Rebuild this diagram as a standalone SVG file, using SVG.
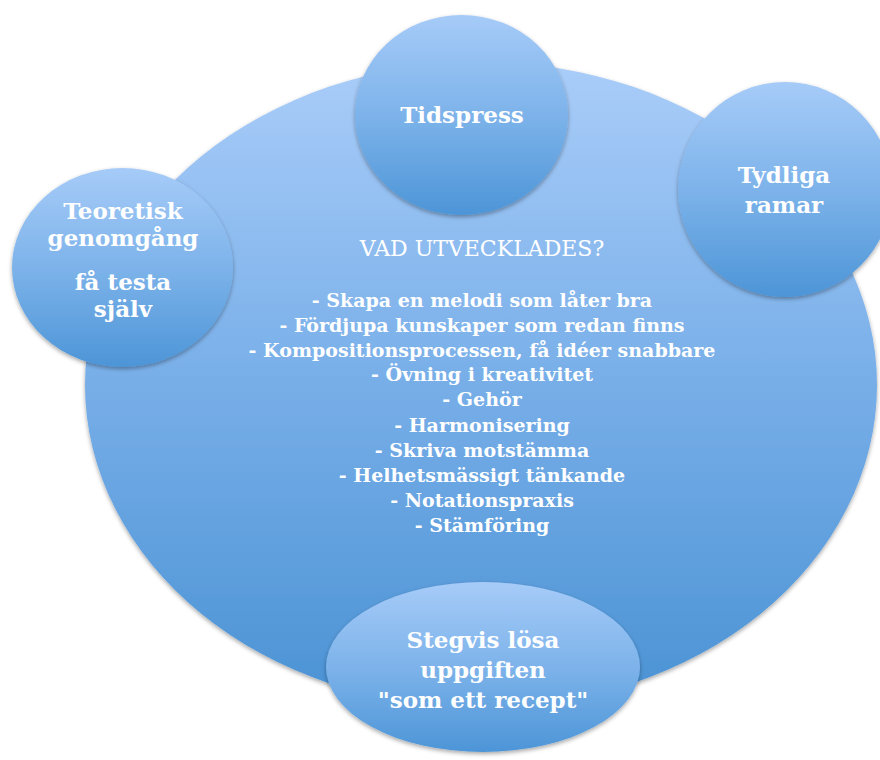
<svg xmlns="http://www.w3.org/2000/svg" width="880" height="760" viewBox="0 0 880 760">
  <style>
    .lbl { font-family: "DejaVu Serif", "Liberation Serif", serif; font-weight: bold; fill: #ffffff; text-anchor: middle; }
    .node { font-size: 23px; }
    .hdr { font-family: "DejaVu Serif", "Liberation Serif", serif; font-weight: normal; font-size: 22px; fill: #ffffff; text-anchor: middle; }
    .item { font-size: 19px; }
  </style>
  <defs>
    <linearGradient id="gBig" x1="0" y1="0" x2="0" y2="1">
      <stop offset="0" stop-color="#aacdf9"/>
      <stop offset="0.5" stop-color="#77aee8"/>
      <stop offset="1" stop-color="#4a92d4"/>
    </linearGradient>
    <linearGradient id="gNode" x1="0" y1="0" x2="0" y2="1">
      <stop offset="0" stop-color="#a6cbf8"/>
      <stop offset="0.5" stop-color="#7db3ea"/>
      <stop offset="1" stop-color="#4d95d7"/>
    </linearGradient>
    <filter id="sh" x="-10%" y="-10%" width="120%" height="125%">
      <feDropShadow dx="0" dy="2" stdDeviation="2" flood-color="#000000" flood-opacity="0.35"/>
    </filter>
  </defs>

  <g id="center">
    <ellipse cx="481" cy="385" rx="396" ry="323" fill="url(#gBig)" filter="url(#sh)"/>
    <text class="hdr" x="482" y="256">VAD UTVECKLADES?</text>
    <g class="lbl item">
      <text x="482" y="307">- Skapa en melodi som låter bra</text>
      <text x="482" y="332">- Fördjupa kunskaper som redan finns</text>
      <text x="482" y="357">- Kompositionsprocessen, få idéer snabbare</text>
      <text x="482" y="381">- Övning i kreativitet</text>
      <text x="482" y="406">- Gehör</text>
      <text x="482" y="432">- Harmonisering</text>
      <text x="482" y="457">- Skriva motstämma</text>
      <text x="482" y="482">- Helhetsmässigt tänkande</text>
      <text x="482" y="507">- Notationspraxis</text>
      <text x="482" y="532">- Stämföring</text>
    </g>
  </g>

  <g id="connectors"></g>

  <g id="node-teoretisk">
    <ellipse cx="122.5" cy="267.5" rx="110.5" ry="99.5" fill="url(#gNode)" filter="url(#sh)"/>
    <text class="lbl node" x="123" y="219">Teoretisk</text>
    <text class="lbl node" x="123" y="246">genomgång</text>
    <text class="lbl node" x="123" y="290">få testa</text>
    <text class="lbl node" x="123" y="317">själv</text>
  </g>

  <g id="node-tidspress">
    <ellipse cx="461.5" cy="115" rx="106.5" ry="100" fill="url(#gNode)" filter="url(#sh)"/>
    <text class="lbl node" x="462" y="123">Tidspress</text>
  </g>

  <g id="node-tydliga">
    <ellipse cx="785" cy="189.5" rx="107" ry="107.5" fill="url(#gNode)" filter="url(#sh)"/>
    <text class="lbl node" x="784" y="183">Tydliga</text>
    <text class="lbl node" x="784" y="213">ramar</text>
  </g>

  <g id="node-stegvis">
    <ellipse cx="483" cy="667" rx="157" ry="85" fill="url(#gNode)" filter="url(#sh)"/>
    <text class="lbl node" x="483" y="648">Stegvis lösa</text>
    <text class="lbl node" x="483" y="678">uppgiften</text>
    <text class="lbl node" x="483" y="708">"som ett recept"</text>
  </g>
</svg>
